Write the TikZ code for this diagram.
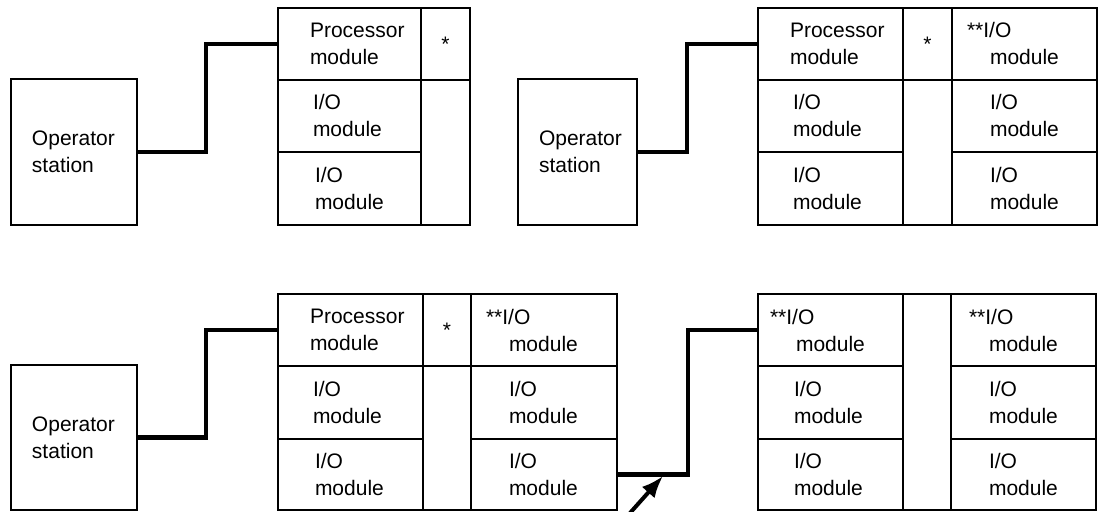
\documentclass[tikz,border=0pt]{standalone}
\usepackage{fontspec}
\setmainfont{Liberation Sans}
\usetikzlibrary{arrows.meta}
\tikzset{
  cell/.style={draw=black, line width=1.1pt, rectangle, inner ysep=0pt, align=left,
    font=\fontsize{10.5}{13.5}\selectfont},
  conn/.style={draw=black, line width=2.2pt},
  pointer/.style={draw=black, line width=2pt, -{Latex[length=11pt,width=8.5pt]}}
}
% name, x1, y1, x2, y2, text offset (px), text
\newcommand\cellbox[7]{%
  \pgfmathsetmacro\cw{(#4-#2)*0.5}%
  \pgfmathsetmacro\ch{(#5-#3)*0.5}%
  \pgfmathsetmacro\tw{(#4-#2-2*#6)*0.5}%
  \pgfmathsetmacro\ox{#6*0.5}%
  \node[cell, minimum width=\cw pt, minimum height=\ch pt, text width=\tw pt, inner xsep=\ox pt]
    (#1) at ({(#2+#4)/2},{(#3+#5)/2}) {#7};}
\newcommand\starbox[5]{%
  \pgfmathsetmacro\cw{(#4-#2)*0.5}%
  \pgfmathsetmacro\ch{(#5-#3)*0.5}%
  \node[cell, align=center, inner xsep=0pt, minimum width=\cw pt, minimum height=\ch pt]
    (#1) at ({(#2+#4)/2},{(#3+#5)/2}) {\raisebox{-2pt}{*}};}
\newcommand\emptybox[5]{%
  \pgfmathsetmacro\cw{(#4-#2)*0.5}%
  \pgfmathsetmacro\ch{(#5-#3)*0.5}%
  \node[cell, inner sep=0pt, minimum width=\cw pt, minimum height=\ch pt]
    (#1) at ({(#2+#4)/2},{(#3+#5)/2}) {};}
\begin{document}
\begin{tikzpicture}[x=0.5pt, y=-0.5pt]
\useasboundingbox (0,0) rectangle (1098,512);
\fill[white] (0,0) rectangle (1098,512);

% ---------- top left ----------
\cellbox{opA}{11}{79}{137}{225}{21}{Operator\\station}
\cellbox{procA}{278}{8}{421}{80}{32}{Processor\\module}
\cellbox{ioA1}{278}{80}{421}{152}{35}{I/O\\module}
\cellbox{ioA2}{278}{152}{421}{225}{37}{I/O\\module}
\starbox{starA}{421}{8}{470}{80}
\emptybox{busA}{421}{80}{470}{225}
\draw[conn] (opA.east) -- ++(68,0) |- (procA.west);

% ---------- top right ----------
\cellbox{opB}{518}{79}{637}{225}{21}{Operator\\station}
\cellbox{procB}{758}{8}{903}{80}{32}{Processor\\module}
\cellbox{ioB1}{758}{80}{903}{152}{35}{I/O\\module}
\cellbox{ioB2}{758}{152}{903}{225}{35}{I/O\\module}
\starbox{starB}{903}{8}{952}{80}
\emptybox{busB}{903}{80}{952}{225}
\cellbox{ioB3}{952}{8}{1097}{80}{15}{**I/O\\\hspace*{11.5pt}module}
\cellbox{ioB4}{952}{80}{1097}{152}{38}{I/O\\module}
\cellbox{ioB5}{952}{152}{1097}{225}{38}{I/O\\module}
\draw[conn] (opB.east) -- ++(49,0) |- (procB.west);

% ---------- bottom left ----------
\cellbox{opC}{11}{365}{137}{510}{21}{Operator\\station}
\cellbox{procC}{278}{294}{423}{366}{32}{Processor\\module}
\cellbox{ioC1}{278}{366}{423}{439}{35}{I/O\\module}
\cellbox{ioC2}{278}{439}{423}{510}{37}{I/O\\module}
\starbox{starC}{423}{294}{471}{366}
\emptybox{busC}{423}{366}{471}{510}
\cellbox{ioC3}{471}{294}{617}{366}{15}{**I/O\\\hspace*{11.5pt}module}
\cellbox{ioC4}{471}{366}{617}{439}{38}{I/O\\module}
\cellbox{ioC5}{471}{439}{617}{510}{38}{I/O\\module}
\draw[conn] (opC.east) -- ++(68,0) |- (procC.west);

% ---------- bottom right ----------
\cellbox{ioD1}{758}{294}{903}{366}{12}{**I/O\\\hspace*{13pt}module}
\cellbox{ioD2}{758}{366}{903}{439}{36}{I/O\\module}
\cellbox{ioD3}{758}{439}{903}{510}{36}{I/O\\module}
\emptybox{busD}{903}{294}{951}{510}
\cellbox{ioD4}{951}{294}{1096}{366}{18}{**I/O\\\hspace*{10pt}module}
\cellbox{ioD5}{951}{366}{1096}{439}{38}{I/O\\module}
\cellbox{ioD6}{951}{439}{1096}{510}{38}{I/O\\module}
\draw[conn] (ioC5.east) -- ++(70,0) |- (ioD1.west);

% pointer arrow
\coordinate (ptail) at (630,513);
\coordinate (phead) at (663,476);
\draw[pointer] (ptail) -- (phead);
\end{tikzpicture}
\end{document}
